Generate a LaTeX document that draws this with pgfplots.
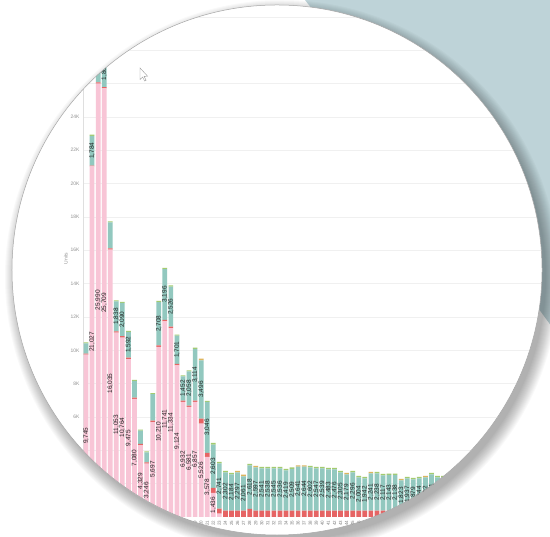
\documentclass[border=0pt]{standalone}
\usepackage{fontspec}
\setmainfont{Liberation Sans}
\usepackage{pgfplots}
\usepackage{pgfplotstable}
\pgfplotsset{compat=1.18}
\definecolor{cpink}{HTML}{F8C5D6}
\definecolor{cred}{HTML}{E66464}
\definecolor{cteal}{HTML}{92C8BF}
\definecolor{cgreen}{HTML}{A4CB6E}
\definecolor{cgold}{HTML}{DDB55E}
\definecolor{bgblue}{HTML}{BED3D8}

\pgfplotstableread{
x pink red teal green gold
1 9.745 0.05 0.62 0.06 0
2 21.027 0.05 1.784 0.08 0
3 25.99 0.08 0.9 0.06 0
4 25.709 0.08 1.8 0.06 0
5 16.04 0.08 1.55 0.06 0
6 11.053 0.08 1.8 0.06 0
7 10.764 0.08 2.0 0.06 0
8 9.475 0.08 1.55 0.06 0
9 7.08 0.08 1.0 0.06 0
10 4.3 0.08 0.8 0.06 0
11 3.2 0.08 0.6 0.06 0
12 5.697 0.08 1.6 0.06 0
13 10.21 0.08 2.6 0.08 0
14 11.741 0.08 3.05 0.08 0
15 11.334 0.08 2.4 0.08 0
16 9.1 0.08 1.7 0.06 0
17 6.9 0.08 1.45 0.06 0
18 6.6 0.08 2.05 0.06 0
19 6.9 0.08 3.1 0.08 0
20 5.6 0.3 3.5 0 0.1
21 3.6 0.25 3.05 0.06 0
22 1.44 0.3 2.6 0.1 0
23 0.2 0.3 2.72 0.08 0
24 0 0.38 2.30 0.08 0
25 0 0.38 2.18 0.08 0
26 0 0.38 2.30 0 0.08
27 0 0.38 2.06 0 0.1
28 0 0.48 2.62 0.08 0
29 0 0.38 2.60 0 0.08
30 0 0.38 2.54 0.08 0
31 0 0.38 2.54 0.08 0
32 0 0.38 2.54 0.08 0
33 0 0.38 2.54 0.08 0
34 0 0.38 2.42 0.08 0
35 0 0.38 2.51 0.08 0
36 0 0.38 2.64 0 0.08
37 0 0.38 2.64 0 0.08
38 0 0.38 2.60 0.08 0
39 0 0.38 2.54 0.08 0
40 0 0.38 2.54 0.08 0
41 0 0.38 2.48 0.08 0
42 0 0.38 2.48 0.08 0
43 0 0.38 2.30 0.08 0
44 0 0.38 2.18 0 0.08
45 0 0.38 2.30 0.08 0
46 0 0.38 2.00 0.08 0
47 0 0.38 1.94 0.08 0
48 0 0.38 2.24 0 0.08
49 0 0.38 2.24 0.08 0
50 0 0.38 2.12 0.08 0
51 0 0.38 2.14 0.08 0
52 0 0.38 2.14 0.08 0
53 0 0.38 1.82 0 0.08
54 0 0.38 1.94 0.08 0
55 0 0.38 1.88 0.08 0
56 0 0.38 1.94 0.08 0
57 0 0.38 2.00 0 0.08
58 0 0.38 2.18 0.08 0
59 0 0.38 2.00 0.08 0
60 0 0.38 2.00 0.08 0
61 0 0.38 2.04 0.08 0
62 0 0.38 1.94 0.08 0
63 0 0.38 1.99 0.08 0
64 0 0.38 2.04 0.08 0
65 0 0.38 1.94 0.08 0
66 0 0.38 1.89 0.08 0
67 0 0.38 1.94 0.08 0
}\bars

\pgfplotstableread{
x y label
1 4.87 9,745
2 10.51 21,027
3 13.0 25,990
4 12.85 25,709
5 8.02 16,035
6 5.53 11,053
7 5.38 10,764
8 4.74 9,475
9 3.54 7,080
10 2.15 4,329
11 1.6 3,246
12 2.85 5,697
13 5.1 10,210
14 5.87 11,741
15 5.67 11,334
16 4.55 9,124
17 3.45 6,932
18 3.3 6,581
19 3.45 6,857
20 2.8 5,526
21 1.8 3,578
22 0.72 1,436
2 21.97 1,784
4 26.69 1,800
6 12.03 1,838
7 11.84 2,090
8 10.33 1,592
13 11.59 2,708
14 13.35 3,196
15 12.61 2,526
16 10.03 1,701
17 7.71 1,452
18 7.71 2,058
19 8.53 3,114
20 7.65 3,496
21 5.38 3,046
22 3.04 2,603
23 1.86 2,741
24 1.53 2,302
25 1.47 2,184
26 1.53 2,297
27 1.41 2,061
28 1.79 2,618
29 1.68 2,597
30 1.65 2,541
31 1.65 2,538
32 1.65 2,545
33 1.65 2,536
34 1.59 2,419
35 1.64 2,509
36 1.70 2,641
37 1.70 2,644
38 1.68 2,602
39 1.65 2,547
40 1.65 2,539
41 1.62 2,483
42 1.62 2,476
43 1.53 2,305
44 1.47 2,179
45 1.53 2,296
46 1.38 2,004
47 1.35 1,942
48 1.50 2,241
49 1.50 2,238
50 1.44 2,117
51 1.45 2,143
52 1.45 2,138
53 1.29 1,823
54 1.35 1,937
55 1.32 1,879
56 1.35 1,944
57 1.38 2,002
58 1.47 2,181
59 1.38 1,998
60 1.38 2,006
61 1.40 2,041
62 1.35 1,942
}\labs

\begin{document}
\begin{tikzpicture}[x=1bp,y=1bp]
\path[use as bounding box] (0,0) rectangle (550,537);
\begin{scope}
\clip (0,0) rectangle (550,537);
\fill[white] (0,0) rectangle (550,537);
\fill[bgblue] (305,537) -- (560,537) -- (560,199) -- (430,377) -- cycle;
\foreach \k in {0,...,13} {
  \pgfmathsetmacro\rr{264+\k}
  \fill[black,opacity=0.022] (282,260) circle [radius=\rr bp];
}
\fill[white] (277,267) circle [radius=265bp];
\begin{scope}
\clip (277,267) circle [radius=265bp];
\begin{axis}[
  at={(83bp,20bp)}, anchor=south west, scale only axis,
  x=6.06bp, y=16.67bp,
  xmin=0.5, xmax=80, ymin=0, ymax=31,
  ybar stacked, bar width=4.7bp,
  axis lines*=left,
  x axis line style={draw=none},
  y axis line style={draw=gray!25, line width=0.4bp},
  ytick={2,4,...,30},
  yticklabels={2K,4K,6K,8K,10K,12K,14K,16K,18K,20K,22K,24K,26K,28K,30K},
  ymajorgrids, major grid style={draw=gray!12, line width=0.5bp},
  xtick={1,...,67},
  /pgf/number format/assume math mode=true,
  xticklabel style={rotate=90, anchor=east, font=\fontsize{4.5}{5}\selectfont, text=gray},
  yticklabel style={font=\fontsize{5}{5}\selectfont, text=gray!85},
  major tick length=0pt,
  ylabel={Units},
  ylabel style={font=\fontsize{5}{5}\selectfont, text=gray!85, yshift=-4bp},
]
\addplot[fill=cpink, draw=none] table[x=x,y=pink]{\bars};
\addplot[fill=cred, draw=none] table[x=x,y=red]{\bars};
\addplot[fill=cteal, draw=none] table[x=x,y=teal]{\bars};
\addplot[fill=cgreen, draw=none] table[x=x,y=green]{\bars};
\addplot[fill=cgold, draw=none] table[x=x,y=gold]{\bars};
\end{axis}
\begin{axis}[
  at={(83bp,20bp)}, anchor=south west, scale only axis,
  x=6.06bp, y=16.67bp,
  xmin=0.5, xmax=80, ymin=0, ymax=31,
  hide axis, clip=false,
]
\addplot[only marks, mark=*, mark size=0pt,
  nodes near coords, point meta=explicit symbolic,
  nodes near coords style={rotate=90, anchor=center, font=\fontsize{6.5}{7}\selectfont, text=black!85, inner sep=0pt}]
  table[x=x,y=y,meta=label]{\labs};
\end{axis}
\end{scope}
\draw[gray!70, line width=0.5bp] (277,267) circle [radius=265bp];
% cursor
\draw[gray!80, fill=white, line width=0.4bp] (140,469) -- (140,457.5) -- (142.6,460) -- (144.6,456) -- (146.1,456.7) -- (144.1,460.6) -- (147.6,460.8) -- cycle;
\end{scope}
\end{tikzpicture}
\end{document}
